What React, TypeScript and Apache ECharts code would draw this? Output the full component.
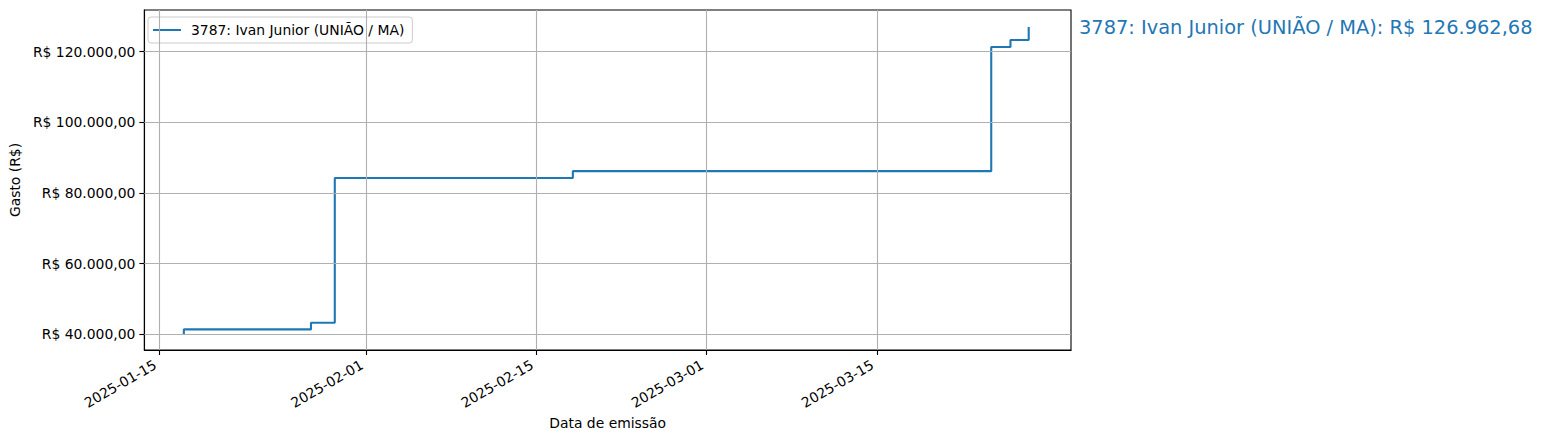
import React, { useEffect, useRef } from "react";
import * as echarts from "echarts";

const seriesName = "3787: Ivan Junior (UNIÃO / MA)";
const dates = [
  "2025-01-17T00:00:00",
  "2025-01-17T00:00:00",
  "2025-01-27T11:00:00",
  "2025-01-29T10:00:00",
  "2025-02-18T00:00:00",
  "2025-03-24T10:00:00",
  "2025-03-26T00:00:00",
  "2025-03-27T12:00:00",
];
const gastos = [39950, 41350, 43240, 84200, 86150, 121300, 123300, 126962.68];
const xTicks = ["2025-01-15", "2025-02-01", "2025-02-15", "2025-03-01", "2025-03-15"];
const yTicks = [40000, 60000, 80000, 100000, 120000];
const totalLabel = "3787: Ivan Junior (UNIÃO / MA): R$ 126.962,68";

const xMin = "2025-01-13T18:00:00";
const xMax = "2025-03-30T23:30:00";
const yMin = 35513;
const yMax = 131778;

const FONT = "DejaVu Sans";
const BLUE = "#1f77b4";

function ts(s: string): number {
  const [d, t] = s.split("T");
  const [y, m, day] = d.split("-").map(Number);
  let hh = 0, mm = 0;
  if (t) {
    const p = t.split(":").map(Number);
    hh = p[0];
    mm = p[1];
  }
  return Date.UTC(y, m - 1, day, hh, mm);
}

function pad(n: number) {
  return n < 10 ? "0" + n : "" + n;
}

function fmtDate(v: number) {
  const d = new Date(v);
  return d.getUTCFullYear() + "-" + pad(d.getUTCMonth() + 1) + "-" + pad(d.getUTCDate());
}

function fmtBRL(v: number) {
  const parts = v.toFixed(2).split(".");
  const int = parts[0].replace(/\B(?=(\d{3})+(?!\d))/g, ".");
  return "R$ " + int + "," + parts[1];
}

export default function App() {
  const ref = useRef<HTMLDivElement>(null);
  useEffect(() => {
    if (!ref.current) return;
    const chart = echarts.init(ref.current, undefined, { renderer: "svg" });
    const xTickVals = xTicks.map(ts);
    const data = dates.map((d, i) => [ts(d), gastos[i]]);
    const gridLine = { color: "#b0b0b0", width: 1.1, type: "solid" as const };
    chart.setOption({
      animation: false,
      textStyle: { fontFamily: FONT },
      grid: {
        left: 141,
        top: 10,
        width: 930,
        height: 340,
        show: true,
        borderColor: "#000",
        borderWidth: 1.1,
        backgroundColor: "transparent",
      },
      legend: {
        data: [seriesName],
        left: 148,
        top: 17,
        padding: [6, 8, 6, 5],
        icon: "path://M0,0 H28 V2 H0 Z",
        itemWidth: 28,
        itemHeight: 2,
        borderColor: "#cccccc",
        borderWidth: 1,
        borderRadius: 3,
        backgroundColor: "rgba(255,255,255,0.8)",
        textStyle: { fontFamily: FONT, fontSize: 13.9, color: "#000", padding: [0, 0, 0, 5] },
      },
      xAxis: {
        type: "value",
        min: ts(xMin),
        max: ts(xMax),
        scale: true,
        name: "Data de emissão",
        nameLocation: "middle",
        nameGap: 66,
        nameTextStyle: { fontFamily: FONT, fontSize: 13.9, color: "#000" },
        axisLine: { show: true, lineStyle: { color: "#000", width: 1.1 } },
        axisTick: {
          show: true,
          length: 5,
          customValues: xTickVals,
          lineStyle: { color: "#000", width: 1.1 },
        },
        axisLabel: {
          customValues: xTickVals,
          rotate: 30,
          margin: 11,
          padding: [0, 5, 0, 0],
          fontFamily: FONT,
          fontSize: 13.9,
          color: "#000",
          formatter: (v: number) => fmtDate(v),
        },
        splitLine: { show: false },
      },
      yAxis: {
        type: "value",
        min: yMin,
        max: yMax,
        name: "Gasto (R$)",
        nameLocation: "middle",
        nameRotate: 90,
        nameGap: 118,
        nameTextStyle: { fontFamily: FONT, fontSize: 13.9, color: "#000" },
        axisLine: { show: true, lineStyle: { color: "#000", width: 1.1 } },
        axisTick: {
          show: true,
          length: 5,
          customValues: yTicks,
          lineStyle: { color: "#000", width: 1.1 },
        },
        axisLabel: {
          customValues: yTicks,
          margin: 9,
          fontFamily: FONT,
          fontSize: 13.9,
          color: "#000",
          formatter: (v: number) => fmtBRL(v),
        },
        splitLine: { show: false },
      },
      series: [
        {
          name: "grid",
          type: "line",
          data: [],
          z: 1,
          silent: true,
          markLine: {
            silent: true,
            symbol: ["none", "none"],
            label: { show: false },
            lineStyle: gridLine,
            emphasis: { disabled: true },
            data: [
              ...xTickVals.map((v) => ({ xAxis: v })),
              ...yTicks.map((v) => ({ yAxis: v })),
            ],
          },
        },
        {
          name: seriesName,
          type: "line",
          step: "end",
          data,
          z: 3,
          symbol: "none",
          showSymbol: false,
          lineStyle: { color: BLUE, width: 2.1 },
          itemStyle: { color: BLUE },
        },
      ],
      graphic: [
        {
          type: "text",
          x: 1079,
          y: 27,
          style: {
            text: totalLabel,
            fill: BLUE,
            font: `19.4px "${FONT}"`,
            textAlign: "left",
            textVerticalAlign: "middle",
          },
        },
      ],
    });
    return () => chart.dispose();
  }, []);
  return (
    <div
      ref={ref}
      style={{ position: "fixed", left: 0, top: 0, width: 1544, height: 441, background: "#fff" }}
    />
  );
}
